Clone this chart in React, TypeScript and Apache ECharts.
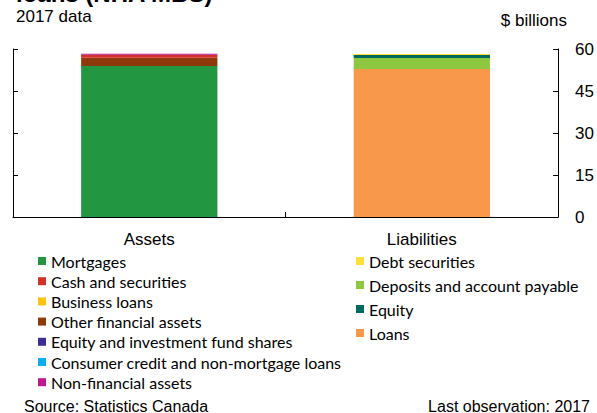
import React, { useEffect, useRef } from "react";
import * as echarts from "echarts";

const categories = ["Assets", "Liabilities"];

const assetNames = [
  "Mortgages",
  "Cash and securities",
  "Business loans",
  "Other financial assets",
  "Equity and investment fund shares",
  "Consumer credit and non-mortgage loans",
  "Non-financial assets",
];
const assetColors = ["#229641", "#D3312B", "#FFC20E", "#8E3A0B", "#3E2C91", "#0AAEEF", "#C2188E"];
// $ billions, 2017
const assetValues = [53.9, 0.95, 0.03, 3.0, 0.03, 0.03, 0.4];
// stacking order bottom -> top (indices into assetNames)
const assetStackOrder = [0, 3, 1, 2, 4, 5, 6];

const liabilityNames = ["Debt securities", "Deposits and account payable", "Equity", "Loans"];
const liabilityColors = ["#FFE03A", "#8DC63F", "#00695E", "#F7984A"];
const liabilityValues = [0.35, 3.9, 1.1, 52.9];
const liabilityStackOrder = [3, 1, 2, 0];

const yTicks = { min: 0, max: 60, interval: 15 };

const AX = "Liberation Sans, Arial, sans-serif";
const LEG = "Lato, Calibri, sans-serif";

export default function App() {
  const ref = useRef<HTMLDivElement>(null);
  useEffect(() => {
    document.body.style.margin = "0";
    const chart = echarts.init(ref.current!, null, { renderer: "svg" });
    const series: any[] = [];
    assetStackOrder.forEach((i) => {
      series.push({
        name: assetNames[i],
        type: "bar",
        stack: "total",
        barWidth: "50%",
        itemStyle: { color: assetColors[i] },
        data: [assetValues[i], 0],
      });
    });
    liabilityStackOrder.forEach((i) => {
      series.push({
        name: liabilityNames[i],
        type: "bar",
        stack: "total",
        barWidth: "50%",
        itemStyle: { color: liabilityColors[i] },
        data: [0, liabilityValues[i]],
      });
    });
    const axisLine = { show: true, lineStyle: { color: "#000", width: 1 } };
    chart.setOption({
      animation: false,
      backgroundColor: "#fff",
      grid: { left: 13, right: 37, top: 49, bottom: 196 },
      xAxis: {
        type: "category",
        data: categories,
        axisLine,
        axisTick: { show: true, inside: true, length: 5, lineStyle: { color: "#000" } },
        axisLabel: { color: "#000", fontFamily: AX, fontSize: 17, margin: 14 },
      },
      yAxis: [
        {
          type: "value",
          position: "right",
          ...yTicks,
          axisLine,
          axisTick: { show: true, inside: true, length: 5, lineStyle: { color: "#000" } },
          axisLabel: { color: "#000", fontFamily: AX, fontSize: 17, margin: 17 },
          splitLine: { show: false },
        },
        {
          type: "value",
          position: "left",
          ...yTicks,
          axisLine,
          axisTick: { show: true, inside: true, length: 5, lineStyle: { color: "#000" } },
          axisLabel: { show: false },
          splitLine: { show: false },
        },
      ],
      legend: [
        {
          data: assetNames,
          orient: "vertical",
          left: 38,
          top: 253,
          padding: 0,
          icon: "rect",
          itemWidth: 8,
          itemHeight: 8,
          itemGap: 4.2,
          selectedMode: false,
          textStyle: { fontFamily: LEG, fontSize: 16, color: "#000", lineHeight: 16 },
        },
        {
          data: liabilityNames,
          orient: "vertical",
          left: 356,
          top: 253,
          padding: 0,
          icon: "rect",
          itemWidth: 8,
          itemHeight: 8,
          itemGap: 8,
          selectedMode: false,
          textStyle: { fontFamily: LEG, fontSize: 16, color: "#000", lineHeight: 16 },
        },
      ],
      graphic: [
        {
          type: "text",
          left: 16,
          top: -19,
          style: { text: "loans (NHA MBS)", font: `bold 24px ${AX}`, fill: "#000" },
        },
        {
          type: "text",
          left: 16,
          top: 8,
          style: { text: "2017 data", font: `17px ${AX}`, fill: "#000" },
        },
        {
          type: "text",
          right: 30,
          top: 12,
          style: { text: "$ billions", font: `17px ${AX}`, fill: "#000" },
        },
        {
          type: "text",
          left: 24,
          top: 398,
          style: { text: "Source: Statistics Canada", font: `16px ${AX}`, fill: "#000" },
        },
        {
          type: "text",
          right: 7,
          top: 398,
          style: { text: "Last observation: 2017", font: `16px ${AX}`, fill: "#000" },
        },
      ],
      series,
    });
    return () => chart.dispose();
  }, []);
  return <div ref={ref} style={{ position: "fixed", left: 0, top: 0, width: 597, height: 413 }} />;
}
